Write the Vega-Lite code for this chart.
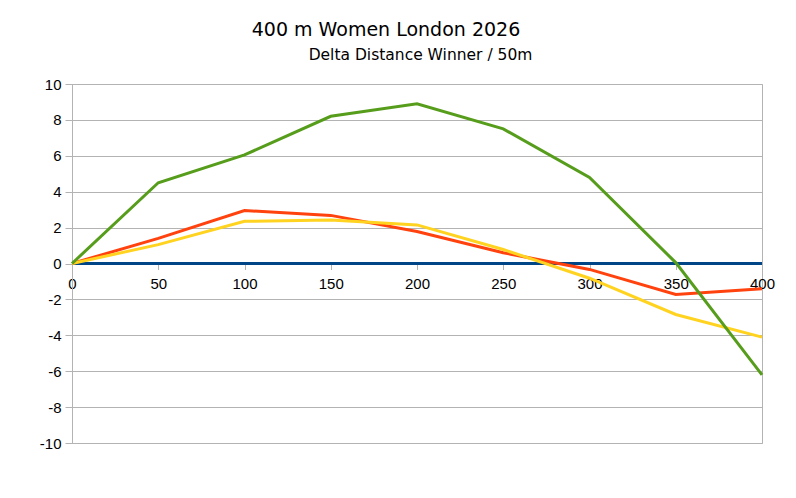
{
  "$schema": "https://vega.github.io/schema/vega-lite/v6.json",
  "width": 690,
  "height": 359,
  "autosize": "none",
  "padding": {"left": 72, "top": 84, "right": 34, "bottom": 55},
  "background": "white",
  "title": {
    "text": "400 m Women London 2026",
    "anchor": "middle",
    "dx": -31,
    "offset": 7,
    "font": "DejaVu Sans",
    "fontSize": 19,
    "fontWeight": "normal",
    "color": "black"
  },
  "config": {
    "view": {"stroke": "#b3b3b3"},
    "axis": {
      "labelFont": "Liberation Sans",
      "labelFontSize": 15,
      "labelColor": "black",
      "gridColor": "#b3b3b3",
      "domainColor": "#b3b3b3",
      "tickColor": "#b3b3b3",
      "tickSize": 6
    }
  },
  "data": {
    "values": [
      {"distance": 0, "runner": "Winner", "delta": 0},
      {"distance": 50, "runner": "Winner", "delta": 0},
      {"distance": 100, "runner": "Winner", "delta": 0},
      {"distance": 150, "runner": "Winner", "delta": 0},
      {"distance": 200, "runner": "Winner", "delta": 0},
      {"distance": 250, "runner": "Winner", "delta": 0},
      {"distance": 300, "runner": "Winner", "delta": 0},
      {"distance": 350, "runner": "Winner", "delta": 0},
      {"distance": 400, "runner": "Winner", "delta": 0},
      {"distance": 0, "runner": "Second", "delta": 0},
      {"distance": 50, "runner": "Second", "delta": 1.4},
      {"distance": 100, "runner": "Second", "delta": 2.95},
      {"distance": 150, "runner": "Second", "delta": 2.68},
      {"distance": 200, "runner": "Second", "delta": 1.78},
      {"distance": 250, "runner": "Second", "delta": 0.6},
      {"distance": 300, "runner": "Second", "delta": -0.33},
      {"distance": 350, "runner": "Second", "delta": -1.72},
      {"distance": 400, "runner": "Second", "delta": -1.4},
      {"distance": 0, "runner": "Third", "delta": 0},
      {"distance": 50, "runner": "Third", "delta": 1.05},
      {"distance": 100, "runner": "Third", "delta": 2.35},
      {"distance": 150, "runner": "Third", "delta": 2.43},
      {"distance": 200, "runner": "Third", "delta": 2.15},
      {"distance": 250, "runner": "Third", "delta": 0.78},
      {"distance": 300, "runner": "Third", "delta": -0.82},
      {"distance": 350, "runner": "Third", "delta": -2.84},
      {"distance": 400, "runner": "Third", "delta": -4.1},
      {"distance": 0, "runner": "Fourth", "delta": 0},
      {"distance": 50, "runner": "Fourth", "delta": 4.5},
      {"distance": 100, "runner": "Fourth", "delta": 6.05},
      {"distance": 150, "runner": "Fourth", "delta": 8.2},
      {"distance": 200, "runner": "Fourth", "delta": 8.9},
      {"distance": 250, "runner": "Fourth", "delta": 7.5},
      {"distance": 300, "runner": "Fourth", "delta": 4.8},
      {"distance": 350, "runner": "Fourth", "delta": 0.05},
      {"distance": 400, "runner": "Fourth", "delta": -6.2}
    ]
  },
  "encoding": {
    "y": {
      "field": "delta",
      "type": "quantitative",
      "scale": {"domain": [-10, 10], "nice": false},
      "axis": {
        "title": null,
        "values": [-10, -8, -6, -4, -2, 0, 2, 4, 6, 8, 10],
        "labelExpr": "'' + datum.value",
        "tickSize": 7,
        "labelPadding": 4
      }
    },
    "color": {
      "field": "runner",
      "type": "nominal",
      "scale": {
        "domain": ["Winner", "Second", "Third", "Fourth"],
        "range": ["#004586", "#ff420e", "#ffd320", "#579d1c"]
      },
      "legend": null
    }
  },
  "layer": [
    {
      "transform": [{"filter": "datum.runner == 'Winner'"}],
      "mark": {"type": "line", "strokeWidth": 3},
      "encoding": {
        "x": {
          "field": "distance",
          "type": "quantitative",
          "scale": {"domain": [0, 400], "nice": false},
          "axis": {
            "orient": "top",
            "title": "Delta Distance Winner / 50m",
            "titleFont": "DejaVu Sans",
            "titleFontSize": 15.5,
            "titleFontWeight": "normal",
            "titleColor": "black",
            "titlePadding": 22,
            "titleX": 348,
            "labels": false,
            "ticks": false,
            "domain": false,
            "grid": false
          }
        }
      }
    },
    {
      "transform": [{"filter": "datum.runner != 'Winner'"}],
      "mark": {"type": "line", "strokeWidth": 3},
      "encoding": {
        "x": {
          "field": "distance",
          "type": "quantitative",
          "scale": {"domain": [0, 400], "nice": false},
          "axis": {
            "orient": "bottom",
            "offset": -179.5,
            "title": null,
            "values": [0, 50, 100, 150, 200, 250, 300, 350, 400],
            "grid": false,
            "labelPadding": 7,
            "labelFlush": false
          }
        }
      }
    }
  ],
  "resolve": {"axis": {"x": "independent"}}
}
